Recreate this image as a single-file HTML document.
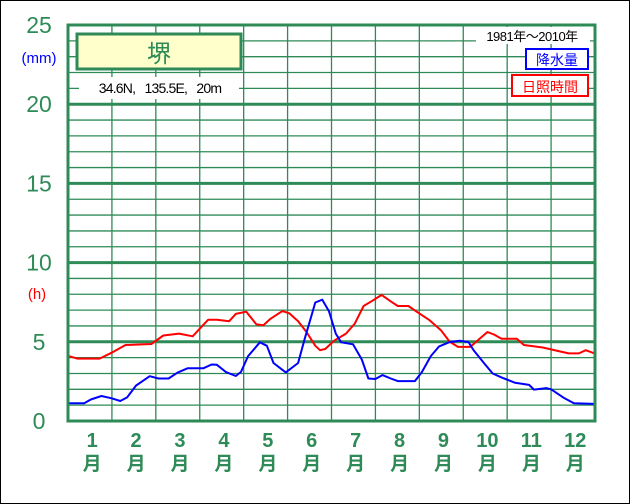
<!DOCTYPE html>
<html><head><meta charset="utf-8"><style>
body{margin:0;background:#fff}
svg{display:block}
text{font-family:"Liberation Sans","Noto Sans CJK JP",sans-serif}
</style></head><body>
<svg id="chart" width="630" height="504" viewBox="0 0 630 504">
<rect x="0.5" y="0.5" width="629" height="503" fill="#fff" stroke="#000"/>
<g id="grid"></g>
<g id="series"></g>
<rect x="68" y="25" width="527" height="396" fill="none" stroke="#2e8b57" stroke-width="3"/>
<g id="yaxis"></g>
<text x="39" y="63" font-size="15" fill="#0000ff" text-anchor="middle">(mm)</text>
<text x="37" y="299" font-size="15" fill="#ff0000" text-anchor="middle">(h)</text>
<g id="xaxis"></g>
<rect x="77" y="34" width="164" height="35" fill="#ffffcc" stroke="#2e8b57" stroke-width="3"/>
<text x="159" y="62" font-size="24" fill="#2e8b57" text-anchor="middle">堺</text>
<rect x="79" y="77" width="160" height="22" fill="#fff"/>
<text x="160" y="93" font-size="14" fill="#000" text-anchor="middle" letter-spacing="-0.8" style="white-space:pre">34.6N,   135.5E,   20m</text>
<rect x="476" y="27" width="114" height="17" fill="#fff"/>
<text x="532" y="41" font-size="13" fill="#000" text-anchor="middle" letter-spacing="-0.5">1981年～2010年</text>
<rect x="526" y="49" width="62" height="20" fill="#fff" stroke="#0000ff" stroke-width="2"/>
<text x="557" y="65" font-size="14" fill="#0000ff" text-anchor="middle">降水量</text>
<rect x="512" y="75" width="76" height="21" fill="#fff" stroke="#ff0000" stroke-width="2"/>
<text x="550" y="92" font-size="14" fill="#ff0000" text-anchor="middle">日照時間</text>
</svg>
<script>
const monthLabels=["1","2","3","4","5","6","7","8","9","10","11","12"];
const yTicks=[0,5,10,15,20,25];
const precipX=[0.015,0.37,0.52,0.76,0.996,1.19,1.35,1.55,1.86,2.06,2.29,2.49,2.72,3.08,3.27,3.39,3.59,3.82,3.94,4.1,4.37,4.53,4.68,4.96,5.24,5.39,5.63,5.79,5.94,6.1,6.22,6.49,6.69,6.84,7.0,7.16,7.35,7.51,7.9,8.06,8.26,8.45,8.69,8.92,9.12,9.24,9.47,9.67,9.87,10.18,10.5,10.61,10.89,11.0,11.28,11.52,11.99];
const precipY=[1.12,1.12,1.36,1.58,1.43,1.26,1.5,2.24,2.83,2.68,2.68,3.05,3.33,3.33,3.57,3.55,3.1,2.84,3.1,4.1,4.97,4.75,3.66,3.07,3.66,5.19,7.48,7.66,6.94,5.5,4.97,4.84,3.88,2.68,2.65,2.9,2.68,2.52,2.52,3.1,4.1,4.71,4.98,5.06,4.98,4.45,3.66,3.0,2.75,2.41,2.28,1.98,2.08,2.0,1.48,1.12,1.08];
const sunX=[0.015,0.21,0.72,0.996,1.31,1.9,2.17,2.53,2.84,3.04,3.19,3.39,3.67,3.82,4.06,4.29,4.45,4.61,4.88,5.04,5.24,5.43,5.63,5.74,5.86,6.06,6.33,6.53,6.73,6.93,7.14,7.35,7.51,7.75,7.94,8.22,8.49,8.69,8.88,9.16,9.32,9.55,9.71,9.87,10.22,10.38,10.81,11.16,11.4,11.63,11.79,11.99];
const sunY=[4.1,3.94,3.94,4.31,4.8,4.86,5.4,5.52,5.35,5.95,6.39,6.39,6.3,6.76,6.9,6.1,6.05,6.45,6.94,6.8,6.3,5.62,4.75,4.47,4.55,5.07,5.52,6.15,7.26,7.59,7.96,7.55,7.26,7.26,6.9,6.39,5.73,5.01,4.68,4.68,5.07,5.62,5.45,5.19,5.19,4.8,4.64,4.42,4.27,4.27,4.47,4.27];
const NS="http://www.w3.org/2000/svg";
const X0=68,X1=595,Y0=421,Y1=25,VMAX=25;
function xS(m){return X0+m*(X1-X0)/12;}
function yS(v){return Y0-v*(Y0-Y1)/VMAX;}
const grid=document.getElementById('grid');
for(let v=1;v<VMAX;v++){
 const l=document.createElementNS(NS,'line');
 
 
 l.setAttribute('x1',X0);l.setAttribute('x2',X1);l.setAttribute('y1',yS(v));l.setAttribute('y2',yS(v));
 l.setAttribute('stroke','#2e8b57');l.setAttribute('stroke-width',v%5===0?3:1.3);
 grid.appendChild(l);
}
for(let m=1;m<12;m++){
 const l=document.createElementNS(NS,'line');
 
 
 l.setAttribute('x1',xS(m));l.setAttribute('x2',xS(m));l.setAttribute('y1',Y1);l.setAttribute('y2',Y0);
 l.setAttribute('stroke','#2e8b57');l.setAttribute('stroke-width',1.3);
 grid.appendChild(l);
}
const ya=document.getElementById('yaxis');
yTicks.forEach(v=>{
 const t=document.createElementNS(NS,'text');
 
 
 t.setAttribute('x',39);t.setAttribute('y',yS(v)+8);t.setAttribute('font-size',23);
 t.setAttribute('fill','#2e8b57');t.setAttribute('text-anchor','middle');
 t.textContent=v;ya.appendChild(t);
});
const xa=document.getElementById('xaxis');
monthLabels.forEach((s,i)=>{
 const cx=xS(i+0.55);
 const t=document.createElementNS(NS,'text');
 
 
 t.setAttribute('x',cx);t.setAttribute('y',447);t.setAttribute('font-size',20);t.setAttribute('font-weight','bold');
 t.setAttribute('fill','#2e8b57');t.setAttribute('text-anchor','middle');t.textContent=s;xa.appendChild(t);
 const u=document.createElementNS(NS,'text');
 
 
 u.setAttribute('x',cx);u.setAttribute('y',470);u.setAttribute('font-size',19);u.setAttribute('font-weight','bold');
 u.setAttribute('fill','#2e8b57');u.setAttribute('text-anchor','middle');u.textContent='月';xa.appendChild(u);
});
const sr=document.getElementById('series');
function line(xs,ys,color,name){
 const p=document.createElementNS(NS,'polyline');
 
 
 p.setAttribute('points',xs.map((x,i)=>xS(x).toFixed(1)+','+yS(ys[i]).toFixed(1)).join(' '));
 p.setAttribute('fill','none');p.setAttribute('stroke',color);p.setAttribute('stroke-width',2);p.setAttribute('stroke-linejoin','round');
 sr.appendChild(p);
}
line(sunX,sunY,'#ff0000','sunshine-line');
line(precipX,precipY,'#0000ff','precipitation-line');
</script>
</body></html>
